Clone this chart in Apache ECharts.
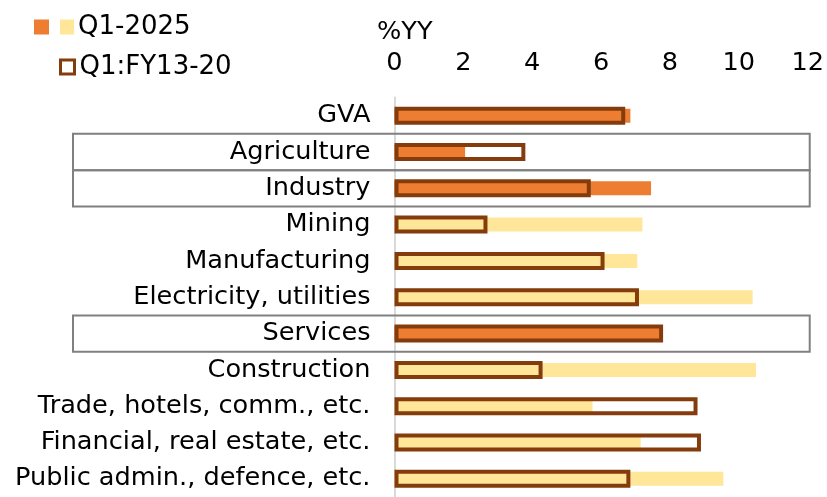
<!DOCTYPE html>
<html>
<head>
<meta charset="utf-8">
<script src="https://cdn.jsdelivr.net/npm/echarts@6/dist/echarts.min.js"></script>
<style>
  html, body { margin: 0; padding: 0; background: #fff; }
  #chart { width: 827px; height: 497px; }
</style>
</head>
<body>
<div id="chart"></div>
<script>
// Sector growth, %YY
const categories = [
    'GVA', 'Agriculture', 'Industry', 'Mining', 'Manufacturing',
    'Electricity, utilities', 'Services', 'Construction',
    'Trade, hotels, comm., etc.', 'Financial, real estate, etc.',
    'Public admin., defence, etc.'
];
const q1_2025 = [6.85, 2.05, 7.45, 7.2, 7.05, 10.4, 7.7, 10.5, 5.75, 7.15, 9.55];
const q1_fy13_20 = [6.7, 3.8, 5.7, 2.7, 6.1, 7.1, 7.8, 4.3, 8.8, 8.9, 6.85];
const xTicks = [0, 2, 4, 6, 8, 10, 12];

// Aggregates get the darker fill, the rest the light one
const aggregates = ['GVA', 'Agriculture', 'Industry', 'Services'];
// Rows framed with a grey box
const boxedRows = ['Agriculture', 'Industry', 'Services'];

const ORANGE = '#ED7D31';
const YELLOW = '#FFE699';
const BROWN = '#843C0C';
const FONT = 'DejaVu Sans';
const FS = 25.6;

const chart = echarts.init(document.getElementById('chart'));

const option = {
    animation: false,
    textStyle: { fontFamily: FONT },
    title: {
        text: '%YY',
        left: 377,
        top: 19,
        padding: 0,
        textStyle: { fontFamily: FONT, fontSize: FS, fontWeight: 'normal', color: '#000' }
    },
    legend: [
        {
            data: ['Q1-2025'],
            left: 34,
            top: 14,
            padding: 0,
            selectedMode: false,
            icon: 'rect',
            itemWidth: 15,
            itemHeight: 15,
            itemStyle: { color: ORANGE, borderWidth: 0 },
            formatter: name => '{sp| }{sq| }{sp2| }' + name,
            textStyle: {
                fontFamily: FONT,
                fontSize: 26,
                color: '#000',
                rich: {
                    sp: { width: 6 },
                    sq: { width: 14, height: 15, backgroundColor: YELLOW },
                    sp2: { width: 4 }
                }
            }
        },
        {
            data: ['Q1:FY13-20'],
            left: 59,
            top: 54,
            padding: 0,
            selectedMode: false,
            icon: 'rect',
            itemWidth: 14,
            itemHeight: 14,
            itemStyle: { color: '#fff', borderColor: BROWN, borderWidth: 3 },
            textStyle: { fontFamily: FONT, fontSize: 26, color: '#000' }
        }
    ],
    grid: {
        left: 394.5,
        right: 18,
        top: 97.5,
        bottom: -6.5
    },
    xAxis: {
        type: 'value',
        position: 'top',
        min: xTicks[0],
        max: xTicks[xTicks.length - 1],
        interval: 2,
        axisLine: { show: false },
        axisTick: { show: false },
        splitLine: { show: false },
        axisLabel: {
            margin: 21,
            fontFamily: FONT,
            fontSize: FS,
            color: '#000'
        }
    },
    yAxis: [
        {
            type: 'category',
            inverse: true,
            data: categories,
            axisTick: { show: false },
            axisLine: { show: true, lineStyle: { color: '#d9d9d9', width: 2 } },
            axisLabel: {
                margin: 24,
                fontFamily: FONT,
                fontSize: FS,
                color: '#000',
                padding: [3, 0, 0, 0]
            }
        },
        {
            // twin axis so the outline bars sit centred on their own band
            type: 'category',
            inverse: true,
            data: categories,
            position: 'left',
            show: false
        }
    ],
    series: [
        {
            name: 'Q1-2025',
            type: 'bar',
            yAxisIndex: 0,
            barWidth: 14,
            data: q1_2025,
            itemStyle: {
                color: p => aggregates.includes(categories[p.dataIndex]) ? ORANGE : YELLOW
            },
            z: 2
        },
        {
            name: 'Q1:FY13-20',
            type: 'bar',
            yAxisIndex: 1,
            barWidth: 18,
            data: q1_fy13_20,
            itemStyle: {
                color: 'rgba(0,0,0,0)',
                borderColor: BROWN,
                borderWidth: 4
            },
            z: 3
        }
    ]
};

chart.setOption(option);

// Grey frames around the aggregate rows, placed from the category scale
const c0 = chart.convertToPixel({ yAxisIndex: 0 }, categories[0]);
const c1 = chart.convertToPixel({ yAxisIndex: 0 }, categories[1]);
const band = Math.abs(c1 - c0);
const frameLeft = 73;
const frameRight = chart.convertToPixel({ xAxisIndex: 0 }, xTicks[xTicks.length - 1]) + 2;

chart.setOption({
    graphic: boxedRows.map(cat => {
        const cy = chart.convertToPixel({ yAxisIndex: 0 }, cat);
        return {
            type: 'rect',
            z: 1,
            shape: {
                x: frameLeft,
                y: cy - band / 2,
                width: frameRight - frameLeft,
                height: band
            },
            style: { fill: 'none', stroke: '#808080', lineWidth: 2 }
        };
    })
});

window.addEventListener('resize', () => chart.resize());
</script>
</body>
</html>
